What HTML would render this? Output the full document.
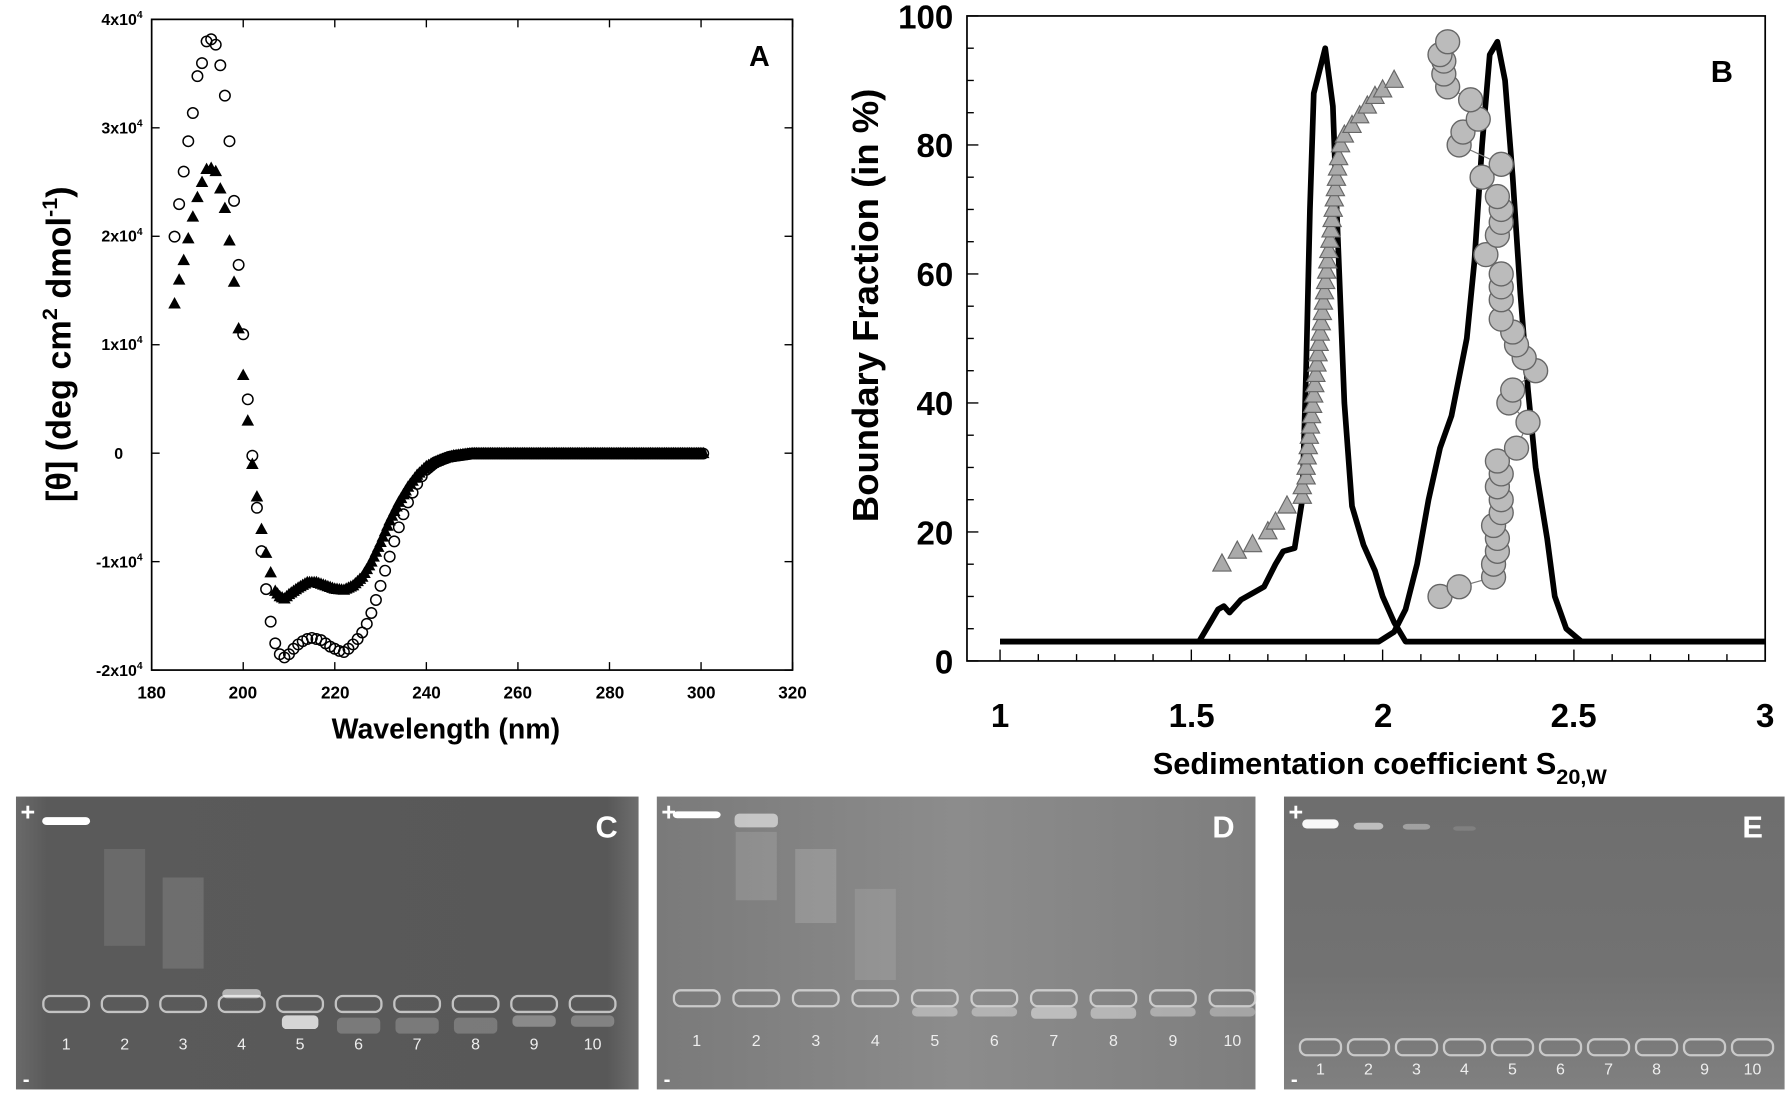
<!DOCTYPE html>
<html><head><meta charset="utf-8"><style>
html,body{margin:0;padding:0;background:#fff;width:1788px;height:1094px;overflow:hidden}
svg{display:block}
text{font-family:"Liberation Sans",sans-serif}
</style></head><body>
<svg id="s" width="1788" height="1094" viewBox="0 0 1568 960" preserveAspectRatio="none" xmlns="http://www.w3.org/2000/svg">
<defs>
<linearGradient id="gc" x1="0" x2="1"><stop offset="0" stop-color="#6a6a6a"/><stop offset="0.05" stop-color="#5a5a5a"/><stop offset="0.95" stop-color="#585858"/><stop offset="1" stop-color="#6e6e6e"/></linearGradient>
<linearGradient id="gd" x1="0" x2="1"><stop offset="0" stop-color="#7a7a7a"/><stop offset="0.5" stop-color="#8c8c8c"/><stop offset="1" stop-color="#7e7e7e"/></linearGradient>
<linearGradient id="ge" x1="0" x2="0" y1="0" y2="1"><stop offset="0" stop-color="#6e6e6e"/><stop offset="0.6" stop-color="#727272"/><stop offset="1" stop-color="#808080"/></linearGradient>
</defs>
<!-- Panel A -->
<rect x="133" y="17" width="562" height="571" fill="none" stroke="#000" stroke-width="1.5"/>
<g id="aticks" stroke="#000" stroke-width="1.2"></g>
<g font-size="14" font-weight="bold" text-anchor="end">
<text x="125" y="22">4x10<tspan font-size="9" dy="-6">4</tspan></text>
<text x="125" y="117">3x10<tspan font-size="9" dy="-6">4</tspan></text>
<text x="125" y="212">2x10<tspan font-size="9" dy="-6">4</tspan></text>
<text x="125" y="307">1x10<tspan font-size="9" dy="-6">4</tspan></text>
<text x="108" y="403">0</text>
<text x="125" y="498">-1x10<tspan font-size="9" dy="-6">4</tspan></text>
<text x="125" y="593">-2x10<tspan font-size="9" dy="-6">4</tspan></text>
</g>
<g font-size="15" font-weight="bold" text-anchor="middle">
<text x="133" y="613">180</text><text x="213" y="613">200</text><text x="294" y="613">220</text><text x="374" y="613">240</text><text x="454" y="613">260</text><text x="535" y="613">280</text><text x="615" y="613">300</text><text x="695" y="613">320</text>
</g>
<text x="391" y="648" font-size="25" font-weight="bold" text-anchor="middle">Wavelength (nm)</text>
<text transform="translate(62,302) rotate(-90)" font-size="30" font-weight="bold" text-anchor="middle">[θ] (deg cm<tspan font-size="19" dy="-12">2</tspan><tspan dy="12"> dmol</tspan><tspan font-size="19" dy="-12">-1</tspan><tspan dy="12">)</tspan></text>
<text x="666" y="58" font-size="25" font-weight="bold" text-anchor="middle">A</text>
<g id="adata"></g>
<!-- Panel B -->
<rect x="848" y="14" width="700" height="566" fill="none" stroke="#000" stroke-width="1.5"/>
<g id="bticks" stroke="#000" stroke-width="1.2"></g>
<g font-size="29" font-weight="bold" text-anchor="end">
<text x="836" y="25">100</text><text x="836" y="138">80</text><text x="836" y="251">60</text><text x="836" y="364">40</text><text x="836" y="478">20</text><text x="836" y="591">0</text>
</g>
<g font-size="29" font-weight="bold" text-anchor="middle">
<text x="877" y="638">1</text><text x="1045" y="638">1.5</text><text x="1213" y="638">2</text><text x="1380" y="638">2.5</text><text x="1548" y="638">3</text>
</g>
<text x="1210" y="679" font-size="27" font-weight="bold" text-anchor="middle">Sedimentation coefficient S<tspan font-size="19" dy="9">20,W</tspan></text>
<text transform="translate(770,268) rotate(-90)" font-size="32" font-weight="bold" text-anchor="middle">Boundary Fraction (in %)</text>
<text x="1510" y="72" font-size="27" font-weight="bold" text-anchor="middle">B</text>
<g id="bdata"></g>
<!-- Gels -->
<rect x="14" y="699" width="546" height="257" fill="url(#gc)"/>
<rect x="576" y="699" width="525" height="257" fill="url(#gd)"/>
<rect x="1126" y="699" width="439" height="257" fill="url(#ge)"/>
<g id="gels"></g>
</svg>
<script>
const NS="http://www.w3.org/2000/svg";
function el(p,t,a,txt){const e=document.createElementNS(NS,t);for(const k in a)e.setAttribute(k,a[k]);if(txt!==undefined)e.textContent=txt;document.getElementById(p).appendChild(e);return e;}
for(let i=0;i<=7;i++){const x=133+i*80.3;el('aticks','line',{x1:x,y1:588,x2:x,y2:581});el('aticks','line',{x1:x,y1:17,x2:x,y2:24});}
for(let i=0;i<=6;i++){const y=17+i*95.17;el('aticks','line',{x1:133,y1:y,x2:140,y2:y});el('aticks','line',{x1:695,y1:y,x2:688,y2:y});}
const ax=l=>133+(l-180)*4.014, ay=v=>398-v*95.17;
function interp(pts,x){for(let i=0;i<pts.length-1;i++){if(x>=pts[i][0]&&x<=pts[i+1][0]){const t=(x-pts[i][0])/(pts[i+1][0]-pts[i][0]);return pts[i][1]+t*(pts[i+1][1]-pts[i][1]);}}return pts[pts.length-1][1];}
const circ=[[185,2.0],[186,2.3],[187,2.6],[188,2.88],[189,3.14],[190,3.48],[191,3.6],[192,3.8],[193,3.82],[194,3.77],[195,3.58],[196,3.3],[197,2.88],[198,2.33],[199,1.74],[200,1.1],[201,0.5],[202,-0.02],[203,-0.5],[204,-0.9],[205,-1.25],[206,-1.55],[207,-1.75],[208,-1.85],[209,-1.88],[210,-1.85],[211,-1.8],[212,-1.76],[213,-1.73],[214,-1.71],[215,-1.7],[216,-1.71],[217,-1.72],[218,-1.75],[219,-1.78],[220,-1.8],[221,-1.82],[222,-1.83],[223,-1.8],[224,-1.76],[225,-1.71],[226,-1.65],[227,-1.57],[228,-1.47],[229,-1.35],[230,-1.22],[231,-1.08],[232,-0.95],[233,-0.81],[234,-0.68],[235,-0.56],[236,-0.45],[237,-0.36],[238,-0.28],[239,-0.21],[240,-0.15],[242,-0.08],[245,-0.03],[250,0],[301,0]];
const tri=[[185,1.38],[186,1.6],[187,1.78],[188,1.98],[189,2.18],[190,2.36],[191,2.5],[192,2.62],[193,2.63],[194,2.6],[195,2.44],[196,2.26],[197,1.96],[198,1.58],[199,1.15],[200,0.72],[201,0.3],[202,-0.1],[203,-0.4],[204,-0.7],[205,-0.92],[206,-1.1],[207,-1.27],[208,-1.32],[209,-1.34],[210,-1.3],[212,-1.24],[214,-1.19],[216,-1.19],[218,-1.22],[220,-1.25],[222,-1.26],[224,-1.22],[226,-1.14],[228,-1.0],[230,-0.82],[232,-0.62],[234,-0.45],[236,-0.31],[238,-0.2],[240,-0.12],[243,-0.06],[246,-0.02],[250,0],[301,0]];
for(let l=185;l<=300.5;l+=(l<207?1:0.5)){const v=interp(tri,l);const x=ax(l),y=ay(v);el('adata','path',{d:`M${x},${y-6}L${x+5.5},${y+4}L${x-5.5},${y+4}Z`,fill:'#000'});}
for(let l=185;l<=300.5;l+=(l<240?1:0.5)){const v=interp(circ,l);el('adata','circle',{cx:ax(l),cy:ay(v),r:4.6,fill:'none',stroke:'#000','stroke-width':1.3});}
const bx=s=>877+(s-1)*335.5, by=p=>580-p*5.66;
for(let i=0;i<=20;i++){const y=580-i*28.3;el('bticks','line',{x1:848,y1:y,x2:i%4==0?858:854,y2:y});}
for(let i=0;i<=20;i++){const x=bx(1+i*0.1);el('bticks','line',{x1:x,y1:580,x2:x,y2:i%5==0?570:574});}
const p1=[[1,3],[1.52,3],[1.55,6],[1.57,8],[1.585,8.5],[1.6,7.5],[1.63,9.5],[1.66,10.5],[1.69,11.5],[1.72,15],[1.74,17],[1.77,17.5],[1.79,25],[1.8,45],[1.81,70],[1.82,88],[1.85,95],[1.87,86],[1.88,70],[1.9,40],[1.92,24],[1.95,18],[1.98,14],[2.0,10],[2.03,6],[2.06,3],[3,3]];
const p2=[[1,3],[1.99,3],[2.03,4.5],[2.06,8],[2.09,15],[2.12,25],[2.15,33],[2.18,38],[2.2,44],[2.22,50],[2.24,62],[2.26,80],[2.28,94],[2.3,96],[2.32,90],[2.34,75],[2.36,57],[2.38,42],[2.4,30],[2.43,19],[2.45,10],[2.48,5],[2.52,3],[3,3]];
for(const p of [p1,p2])el('bdata','polyline',{points:p.map(q=>bx(q[0])+','+by(q[1])).join(' '),fill:'none',stroke:'#000','stroke-width':5,'stroke-linejoin':'round'});
const tr=[[1.58,15],[1.62,17],[1.66,18],[1.7,20],[1.72,21.5],[1.75,24],[1.79,25.5],[1.79,27],[1.8,28.5]];
for(let p=30;p<=78;p+=1.6){tr.push([1.8+(p-30)/48*0.085,p]);}
tr.push([1.89,80],[1.9,81.5],[1.92,83],[1.94,84.5],[1.96,86],[1.98,87.5],[2.0,88.5],[2.03,90]);
for(const q of tr){const x=bx(q[0]),y=by(q[1]);el('bdata','path',{d:`M${x},${y-9}L${x+8},${y+6}L${x-8},${y+6}Z`,fill:'#aaa',stroke:'#666','stroke-width':1});}
const cr=[[2.15,10],[2.2,11.5],[2.29,13],[2.29,15],[2.3,17],[2.3,19],[2.29,21],[2.31,23],[2.31,25],[2.3,27],[2.31,29],[2.3,31],[2.35,33],[2.38,37],[2.33,40],[2.34,42],[2.4,45],[2.37,47],[2.35,49],[2.34,51],[2.31,53],[2.31,56],[2.31,58],[2.31,60],[2.27,63],[2.3,66],[2.31,68],[2.31,70],[2.3,72],[2.26,75],[2.31,77],[2.2,80],[2.21,82],[2.25,84],[2.23,87],[2.17,89],[2.16,91],[2.16,93],[2.15,94],[2.17,96]];
el('bdata','polyline',{points:cr.map(q=>bx(q[0])+','+by(q[1])).join(' '),fill:'none',stroke:'#777','stroke-width':1});
for(const q of cr)el('bdata','circle',{cx:bx(q[0]),cy:by(q[1]),r:10.5,fill:'#bbb',stroke:'#666','stroke-width':1.2});
function gel(x0,w,lx0,step,wellY,labY,letter,bands,smears,ww){
 el('gels','text',{x:x0+4,y:720,fill:'#fff','font-size':22,'font-weight':'bold'},'+');
 el('gels','text',{x:x0+6,y:953,fill:'#fff','font-size':18,'font-weight':'bold'},'-');
 el('gels','text',{x:x0+w-28,y:735,fill:'#fff','font-size':27,'font-weight':'bold','text-anchor':'middle'},letter);
 for(let i=0;i<10;i++){const cx=lx0+i*step;
  el('gels','rect',{x:cx-ww/2,y:wellY-7,width:ww,height:14,rx:6,fill:'none',stroke:'#ddd','stroke-width':2,opacity:0.8});
  el('gels','text',{x:cx,y:labY,fill:'#eee','font-size':14,'text-anchor':'middle'},String(i+1));}
 for(const b of bands){const cx=lx0+b[0]*step;el('gels','rect',{x:cx-b[3]/2,y:b[1],width:b[3],height:b[2],rx:4,fill:'#fff',opacity:b[4]});}
 for(const s of smears){const cx=lx0+s[0]*step;el('gels','rect',{x:cx-18,y:s[1],width:36,height:s[2],fill:'#fff',opacity:s[3]});}
}
gel(14,546,58,51.3,881,921,'C',[[0,717,7,42,1],[4,891,12,32,0.75],[5,893,14,38,0.2],[6,893,14,38,0.2],[7,893,14,38,0.2],[8,891,10,38,0.3],[9,891,10,38,0.25],[3,868,8,34,0.55]],[[1,745,85,0.1],[2,770,80,0.12]],40);
gel(576,525,611,52.2,876,918,'D',[[0,712,6,42,1],[1,714,12,38,0.55],[4,884,8,40,0.35],[5,884,8,40,0.35],[6,884,10,40,0.45],[7,884,10,40,0.4],[8,884,8,40,0.35],[9,884,8,40,0.3]],[[1,730,60,0.12],[2,745,65,0.15],[3,780,80,0.1]],40);
gel(1126,439,1158,42.1,919,943,'E',[[0,719,8,32,0.95],[1,722,6,26,0.55],[2,723,5,24,0.35],[3,725,4,20,0.12]],[],36);
</script>
</body></html>
